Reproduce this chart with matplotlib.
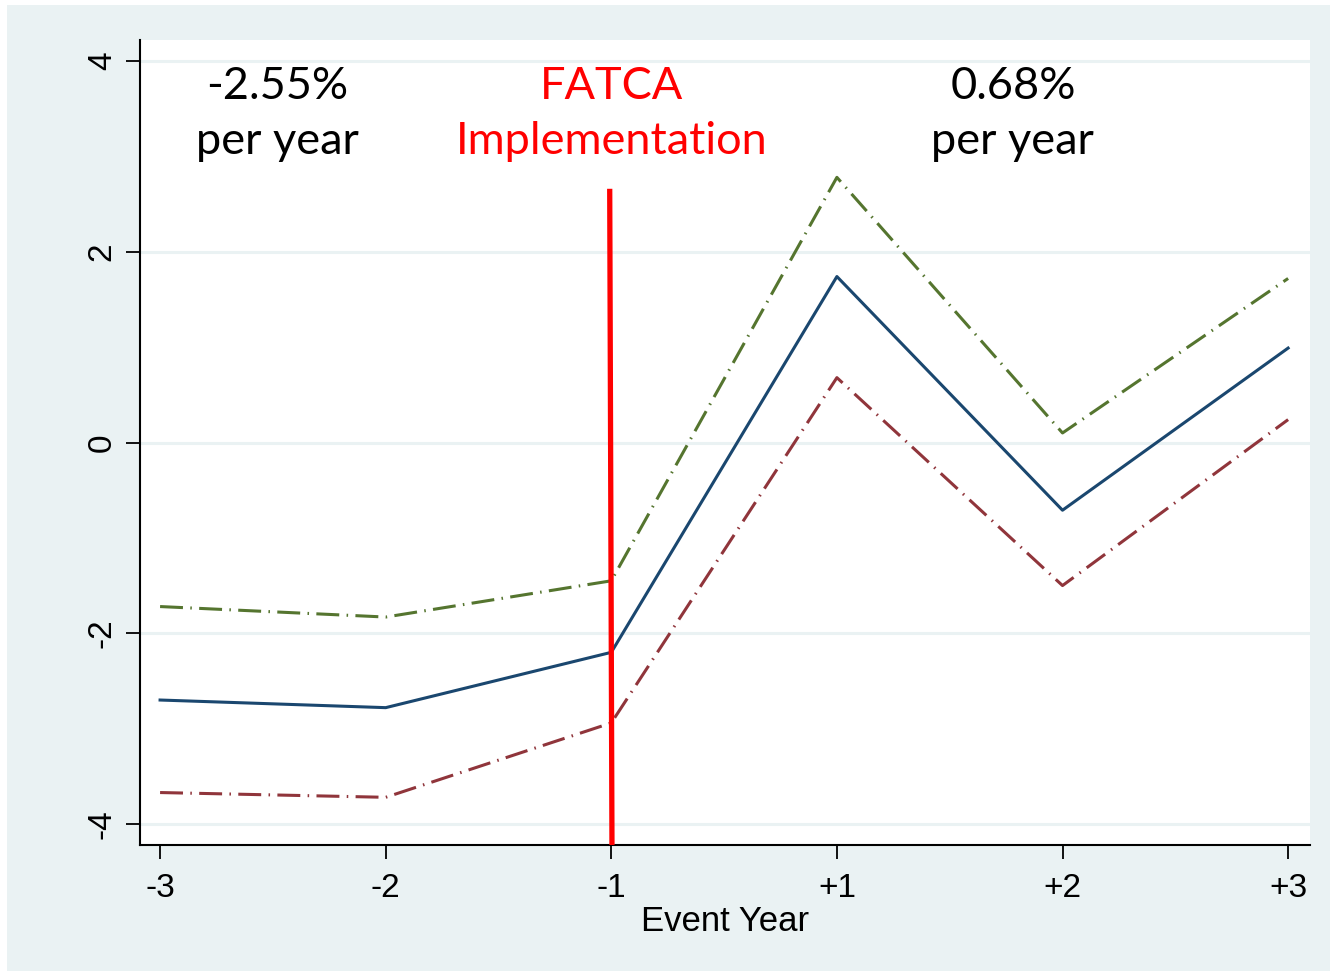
import matplotlib
matplotlib.use('Agg')
import matplotlib.pyplot as plt
from matplotlib.patches import Rectangle

# event-time positions and their labels
event_pos = [0, 1, 2, 3, 4, 5]
event_labels = ['-3', '-2', '-1', '+1', '+2', '+3']

# point estimate and confidence band
estimate = [-2.70, -2.78, -2.20, 1.74, -0.71, 0.99]
upper_ci = [-1.72, -1.83, -1.45, 2.78, 0.10, 1.72]
lower_ci = [-3.67, -3.72, -2.94, 0.68, -1.50, 0.24]

y_ticks = [-4, -2, 0, 2, 4]

BG = '#EAF2F3'
BLUE = '#1A476F'
GREEN = '#55752F'
RED = '#90353B'

fig = plt.figure(figsize=(13.3, 9.73), dpi=100, facecolor='white')
# shaded graph region
fig.patches.append(Rectangle((7 / 1330, 2 / 973), 1 - 7 / 1330, 966 / 973,
                             transform=fig.transFigure, facecolor=BG,
                             edgecolor='none', zorder=-1))

ax = fig.add_axes([140 / 1330, 128 / 973, 1170 / 1330, 805 / 973])
ax.set_zorder(2)
ax.set_facecolor('white')

ax.set_xlim(-0.089, 5.097)
ax.set_ylim(-4.22, 4.22)

for y in y_ticks:
    ax.axhline(y, color=BG, lw=2.2, zorder=1)

dash = (0, (7.5, 2.4, 0.5, 2.4))
ax.plot(event_pos, upper_ci, color=GREEN, lw=2.2, ls=dash, zorder=3)
ax.plot(event_pos, lower_ci, color=RED, lw=2.2, ls=dash, zorder=3)
ax.plot(event_pos, estimate, color=BLUE, lw=2.2, zorder=4)

# policy start marker
ax.plot([1.993, 2.003], [2.66, -4.22], color='#FF0000', lw=3.8, zorder=5,
        solid_capstyle='butt', clip_on=False)

txt = dict(family='Lato', fontsize=32.5, ha='center', va='baseline')
ax.text(0.52, 3.60, '-2.55%', color='black', **txt)
ax.text(0.52, 3.02, 'per year', color='black', **txt)
ax.text(2.0, 3.60, 'FATCA', color='#FF0000', **txt)
ax.text(2.0, 3.02, 'Implementation', color='#FF0000', **txt)
ax.text(3.78, 3.60, '0.68%', color='black', **txt)
ax.text(3.78, 3.02, 'per year', color='black', **txt)

for side in ['top', 'right']:
    ax.spines[side].set_visible(False)
for side in ['left', 'bottom']:
    ax.spines[side].set_linewidth(1.5)
    ax.spines[side].set_color('black')

ax.set_xticks(event_pos)
ax.set_xticklabels(event_labels, fontsize=24, family='Liberation Sans')
ax.set_yticks(y_ticks)
ax.set_yticklabels([str(v) for v in y_ticks], rotation=90, va='center',
                   fontsize=24, family='Liberation Sans')
ax.tick_params(axis='y', length=10, width=1.3, pad=6)
ax.tick_params(axis='x', length=10, width=1.3, pad=10)

ax.set_xlabel('Event Year', fontsize=25, family='Liberation Sans', labelpad=1)

fig.savefig('out.png', dpi=100, facecolor='white')
